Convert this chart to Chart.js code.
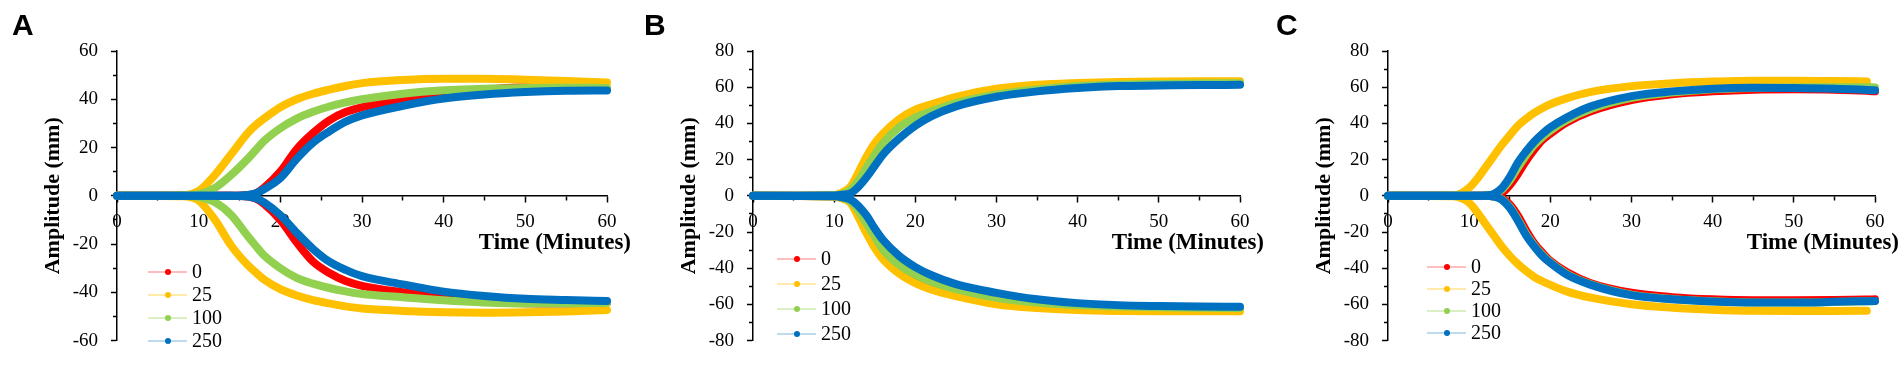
<!DOCTYPE html>
<html>
<head>
<meta charset="utf-8">
<script src="https://cdn.jsdelivr.net/npm/chart.js@4.4.1/dist/chart.umd.min.js"></script>
<style>
  html, body { margin: 0; padding: 0; background: #fff; }
  #wrap { position: relative; width: 1902px; height: 365px; overflow: hidden; background: #fff; }
  #wrap canvas { position: absolute; top: 0; }
</style>
</head>
<body>
<div id="wrap">
  <canvas id="chartA" width="640" height="365" style="left:0px"></canvas>
  <canvas id="chartB" width="630" height="365" style="left:640px"></canvas>
  <canvas id="chartC" width="632" height="365" style="left:1270px"></canvas>
</div>
<script>
// legend entries (concentration) and Excel-like colours
const seriesLabels = ['0', '25', '100', '250'];
const seriesColors = ['#FF0000', '#FFC000', '#92D050', '#0070C0'];
const legendLineColors = ['rgba(255,0,0,0.35)', 'rgba(255,192,0,0.45)', 'rgba(146,208,80,0.45)', 'rgba(0,112,192,0.35)'];

// Panel A
const timesA = [0, 8, 10, 12, 14, 16, 17, 18, 20, 22, 24, 26, 28, 30, 35, 40, 45, 50, 55, 60];
const a0Up    = [0, 0, 0, 0, 0, 0.3, 1, 3.3, 10, 19.3, 26, 31.3, 34.7, 36.7, 40, 42.5, 44, 45, 45, 44.5];
const a25Up   = [0, 0.2, 2, 8.7, 17.3, 26, 29.3, 32, 36.7, 40, 42.3, 44, 45.5, 46.7, 48, 48.5, 48.5, 48.1, 47.6, 47];
const a100Up  = [0, 0, 0.7, 3.3, 8.7, 15.3, 19, 22.7, 28, 32, 34.8, 37, 38.7, 40, 42.3, 43.7, 44.4, 44.7, 44.8, 44.7];
const a250Up  = [0, 0, 0, 0, 0, 0.3, 1, 2.7, 7.3, 15.3, 22, 26.7, 30.7, 33.3, 37.3, 40.3, 42, 43, 43.5, 43.6];
const a0Dn    = [0, 0, 0, 0, 0, -0.3, -1.2, -3.3, -10, -19.3, -27.3, -32, -35.3, -37.3, -40, -42, -43.5, -44.5, -44.6, -44.3];
const a25Dn   = [0, -0.2, -2, -10, -20.7, -28.7, -31.8, -34.7, -38.7, -41.3, -43.2, -44.6, -45.8, -46.7, -47.7, -48.3, -48.5, -48.3, -47.9, -47.3];
const a100Dn  = [0, 0, -0.5, -2.7, -8, -16.7, -20.8, -24.7, -30, -34, -36.4, -38.2, -39.6, -40.7, -42, -43.3, -44.2, -44.6, -44.6, -44.3];
const a250Dn  = [0, 0, 0, 0, 0, -0.3, -1, -2.7, -8, -15.3, -22, -27.3, -30.7, -33.3, -36.7, -39.7, -41.5, -42.7, -43.2, -43.6];

// Panel B
const timesB = [0, 10, 11, 12, 13, 14, 15, 16, 18, 20, 22, 25, 30, 35, 40, 45, 50, 55, 60];
const b0Up    = [0, 0.3, 1.2, 3.2, 10.3, 18.3, 25.4, 31.6, 40.5, 45.8, 49.4, 53.3, 57.7, 60, 61.3, 61.9, 62.3, 62.4, 62.4];
const b25Up   = [0, 0.5, 1.8, 5, 13, 21.8, 29, 34.3, 42.3, 47.6, 50.6, 54.7, 59.1, 61.3, 62.3, 62.9, 63.2, 63.3, 63.3];
const b100Up  = [0, 0.3, 1, 3.2, 8.5, 15.6, 22.7, 29, 37.8, 43.2, 46.7, 51.2, 56, 58.8, 60.6, 61.4, 61.8, 62.1, 62.2];
const b250Up  = [0, 0.2, 0.6, 1.4, 5, 10.3, 16.5, 22.7, 31.6, 38.7, 44, 49.4, 54.7, 57.7, 59.5, 60.6, 60.9, 61.2, 61.3];
const b0Dn    = [0, -0.3, -1.2, -3.2, -10.1, -18.1, -26.1, -32.3, -40.3, -45.6, -49.2, -53.6, -58.1, -60.4, -61.6, -62.2, -62.5, -62.5, -62.5];
const b25Dn   = [0, -0.5, -1.5, -3.9, -11.9, -20.8, -28.8, -35, -43, -48.3, -51.9, -55.4, -59.9, -62, -63.1, -63.6, -63.8, -63.8, -63.8];
const b100Dn  = [0, -0.3, -1, -3, -8.3, -15.5, -22.6, -29.7, -38.2, -43.6, -47.5, -51.5, -56.3, -59, -60.4, -61.1, -61.6, -61.9, -62];
const b250Dn  = [0, -0.2, -0.8, -2.1, -5.7, -11, -18.1, -24.3, -33.2, -39.4, -43.9, -48.8, -53.6, -57.2, -59.3, -60.4, -60.9, -61.2, -61.3];

// Panel C
const timesC = [0, 8, 9, 10, 11, 12, 13, 14, 15, 16, 17, 18, 19, 20, 22, 25, 30, 35, 40, 45, 50, 55, 59, 60];
const c0Up    = [0, 0, 0, 0, 0, 0, 0.2, 1.4, 5.9, 12.1, 19.2, 25.4, 30.8, 34.3, 40.5, 46.7, 52.9, 56.1, 57.7, 58.6, 58.8, 58.6, 58, 57.7];
const c25Up   = [0, 0.3, 1.4, 4.4, 9.4, 15.6, 21.8, 28, 33.4, 38.7, 42.5, 45.8, 48.4, 50.6, 53.8, 57.4, 60.6, 62.2, 63.1, 63.6, 63.6, 63.4, 63.2, null];
const c100Up  = [0, 0, 0, 0, 0, 0.2, 0.8, 3.2, 8.5, 15.6, 22.2, 28, 32.4, 36, 41.7, 47.9, 54.1, 57, 58.8, 59.6, 59.9, 60, 60, 59.9];
const c250Up  = [0, 0, 0, 0, 0, 0.2, 0.9, 4.1, 10.3, 18.3, 24.5, 29.9, 34.2, 37.8, 43.2, 49.4, 55.1, 57.7, 59.2, 59.7, 59.5, 59.2, 58.5, 58.3];
const c0Dn    = [0, 0, 0, 0, 0, 0, -0.3, -1.2, -4.8, -11, -19, -26.1, -31.4, -35.9, -42.1, -48.3, -53.6, -56, -57.2, -57.7, -57.7, -57.6, -57.3, -57.2];
const c25Dn   = [0, -0.3, -1.2, -3.9, -9.2, -15.5, -21.7, -27.9, -33.2, -37.7, -41.5, -44.8, -47.2, -49.2, -52.8, -56.3, -59.9, -61.8, -62.9, -63.5, -63.6, -63.6, -63.5, null];
const c100Dn  = [0, 0, 0, 0, 0, 0, -0.4, -1.8, -6, -13, -21, -27.3, -32.6, -36.6, -43, -48.9, -54.6, -57, -58.3, -58.9, -59, -58.7, -58.3, -58.2];
const c250Dn  = [0, 0, 0, 0, 0, 0, -0.4, -2.1, -6.6, -13.7, -21.7, -27.9, -33.2, -37.1, -43.5, -49.2, -54.9, -57.2, -58.4, -59, -59, -58.6, -58.2, -58.1];

const panels = [
  { id: 'chartA', letter: 'A', times: timesA,
    upper: [a0Up, a25Up, a100Up, a250Up], lower: [a0Dn, a25Dn, a100Dn, a250Dn],
    yMin: -60, yMax: 60, axisWidth: 117, pad: { top: 51, right: 33, bottom: 14 },
    letterX: 12, legendX: 148, legendY: 272, legendGap: 23 },
  { id: 'chartB', letter: 'B', times: timesB,
    upper: [b0Up, b25Up, b100Up, b250Up], lower: [b0Dn, b25Dn, b100Dn, b250Dn],
    yMin: -80, yMax: 80, axisWidth: 113, pad: { top: 51, right: 30, bottom: 15 },
    letterX: 4, legendX: 137, legendY: 259, legendGap: 25 },
  { id: 'chartC', letter: 'C', times: timesC,
    upper: [c0Up, c25Up, c100Up, c250Up], lower: [c0Dn, c25Dn, c100Dn, c250Dn],
    yMin: -80, yMax: 80, axisWidth: 118, pad: { top: 51, right: 27, bottom: 14 },
    letterX: 6, legendX: 157, legendY: 267, legendGap: 22 }
];

const serif = "'Liberation Serif', 'Times New Roman', serif";

// draws panel letter, axis titles and the Excel-style legend
const decorPlugin = {
  id: 'decor',
  afterDraw(chart, args, opts) {
    const p = opts.panel;
    const ctx = chart.ctx;
    const area = chart.chartArea;
    const y0 = chart.scales.y.getPixelForValue(0);
    ctx.save();
    ctx.fillStyle = '#000';

    ctx.font = "bold 30px 'Liberation Sans', Arial, sans-serif";
    ctx.textAlign = 'left';
    ctx.textBaseline = 'alphabetic';
    ctx.fillText(p.letter, p.letterX, 35);

    ctx.font = 'bold 23px ' + serif;
    ctx.textAlign = 'right';
    ctx.fillText('Time (Minutes)', area.right + 24, y0 + 53);

    ctx.font = 'bold 22px ' + serif;
    ctx.save();
    ctx.translate(area.left - 64, y0);
    ctx.rotate(-Math.PI / 2);
    ctx.textAlign = 'center';
    ctx.textBaseline = 'middle';
    ctx.fillText('Amplitude (mm)', 0, 0);
    ctx.restore();

    ctx.font = '20px ' + serif;
    ctx.textAlign = 'left';
    ctx.textBaseline = 'middle';
    seriesLabels.forEach((label, i) => {
      const ry = p.legendY + i * p.legendGap;
      ctx.strokeStyle = legendLineColors[i];
      ctx.lineWidth = 1.5;
      ctx.beginPath();
      ctx.moveTo(p.legendX, ry);
      ctx.lineTo(p.legendX + 39, ry);
      ctx.stroke();
      ctx.fillStyle = seriesColors[i];
      ctx.beginPath();
      ctx.arc(p.legendX + 20, ry, 3, 0, Math.PI * 2);
      ctx.fill();
      ctx.fillStyle = '#000';
      ctx.fillText(label, p.legendX + 44, ry + 1);
    });
    ctx.restore();
  }
};

function makeDataset(times, values, s) {
  return {
    label: seriesLabels[s],
    data: times.map((t, i) => ({ x: t, y: values[i] })),
    borderColor: seriesColors[s],
    backgroundColor: seriesColors[s],
    borderWidth: 8,
    borderCapStyle: 'round',
    borderJoinStyle: 'round',
    pointRadius: 0,
    cubicInterpolationMode: 'monotone',
    fill: false,
    clip: false,
    order: 3 - s   // 250 ends up on top, like the original
  };
}

panels.forEach(p => {
  const datasets = [];
  for (let s = 0; s < 4; s++) {
    datasets.push(makeDataset(p.times, p.upper[s], s));
    datasets.push(makeDataset(p.times, p.lower[s], s));
  }

  new Chart(document.getElementById(p.id), {
    type: 'line',
    data: { datasets },
    plugins: [decorPlugin],
    options: {
      responsive: false,
      animation: false,
      events: [],
      layout: { padding: { left: 0, top: p.pad.top, right: p.pad.right, bottom: p.pad.bottom } },
      plugins: {
        legend: { display: false },
        tooltip: { enabled: false },
        decor: { panel: p }
      },
      scales: {
        x: {
          type: 'linear',
          position: { y: 0 },
          min: 0,
          max: 60,
          grid: {
            display: true,
            drawOnChartArea: false,
            tickLength: 6,
            tickWidth: 1.5,
            tickColor: '#000',
            tickBorderDash: ctx => (ctx.tick && ctx.tick.value % 10 !== 0) ? [4, 20] : []
          },
          border: { display: true, color: '#000', width: 1.5 },
          ticks: {
            stepSize: 5,
            autoSkip: false,
            maxRotation: 0,
            padding: 9,
            color: '#000',
            font: { family: serif, size: 19 },
            callback: v => (v % 10 === 0 ? v : '')
          }
        },
        y: {
          type: 'linear',
          position: 'left',
          min: p.yMin,
          max: p.yMax,
          afterFit: scale => { scale.width = p.axisWidth; },
          grid: {
            display: true,
            drawOnChartArea: false,
            tickLength: 6,
            tickWidth: 1.5,
            tickColor: '#000',
            tickBorderDash: ctx => (ctx.tick && ctx.tick.value % 20 !== 0) ? [0, 2, 4, 20] : []
          },
          border: { display: true, color: '#000', width: 1.5 },
          ticks: {
            stepSize: 10,
            autoSkip: false,
            padding: 13,
            color: '#000',
            font: { family: serif, size: 19 },
            callback: v => (v % 20 === 0 ? v : '')
          }
        }
      }
    }
  });
});
</script>
</body>
</html>
